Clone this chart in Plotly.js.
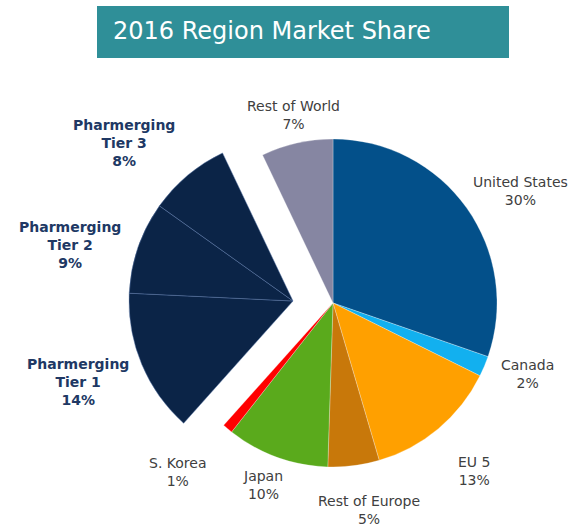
<!DOCTYPE html>
<html>
<head>
<meta charset="utf-8">
<script src="https://cdn.plot.ly/plotly-3.0.1.min.js"></script>
<style>html,body{margin:0;padding:0;background:#fff;}#chart{width:572px;height:527px;}</style>
</head>
<body>
<div id="chart"></div>
<script>
// ---- data ----
const categories = ['United States','Canada','EU 5','Rest of Europe','Japan','S. Korea','Pharmerging Tier 1','Pharmerging Tier 2','Pharmerging Tier 3','Rest of World'];
const shares = [30, 2, 13, 5, 10, 1, 14, 9, 8, 7];
const pharmerging = [false,false,false,false,false,false,true,true,true,false];
const sliceColors = ['#03508a','#12b0ef','#ffa000','#c8780a','#5aaa1c','#ff0000','#0b2447','#0b2447','#0b2447','#8686a2'];
const chartTitle = '2016 Region Market Share';

// ---- label layout (relative to pie radius / slice mid-angle) ----
const labelR = [1.33,1.26,1.34,1.28,1.19,1.40,1.40,1.40,1.41,1.17];
const labelDeg = [4.5,-2.7,0,-2.7,1,2.5,2,-5,-7,1];

// ---- geometry ----
const W = 572, H = 527;
const pieBox = {left:169, top:139, size:328};
const groupShift = {dx:-40, dy:-2};

function domainFor(dx, dy){
  const l = pieBox.left + dx, t = pieBox.top + dy;
  return {x:[l/W, (l+pieBox.size)/W], y:[1-(t+pieBox.size)/H, 1-t/H]};
}
const transparent = 'rgba(0,0,0,0)';
const edge = 'rgba(255,255,255,0.45)';

const traceMain = {
  type:'pie', values:shares, labels:categories, sort:false, direction:'clockwise', rotation:0,
  textinfo:'none', hoverinfo:'skip', showlegend:false,
  domain: domainFor(0,0),
  marker:{colors: sliceColors.map((c,i)=>pharmerging[i]?transparent:c),
          line:{color: edge, width: pharmerging.map(g=>g?0:0.6)}}
};
const traceGroup = {
  type:'pie', values:shares, labels:categories, sort:false, direction:'clockwise', rotation:0,
  textinfo:'none', hoverinfo:'skip', showlegend:false,
  domain: domainFor(groupShift.dx, groupShift.dy),
  marker:{colors: sliceColors.map((c,i)=>pharmerging[i]?c:transparent),
          line:{color: 'rgba(90,120,170,0.6)', width: pharmerging.map(g=>g?0.8:0)}}
};

// ---- labels computed from slice angles ----
const total = shares.reduce((a,b)=>a+b,0);
const R = pieBox.size/2;
const cx = pieBox.left + R, cy = pieBox.top + R;
let cum = 0;
const annotations = shares.map((v,i)=>{
  const mid = (cum + v/2)/total*360 + labelDeg[i];
  cum += v;
  const a = mid*Math.PI/180;
  const ox = cx + (pharmerging[i]?groupShift.dx:0);
  const oy = cy + (pharmerging[i]?groupShift.dy:0);
  const px = ox + R*labelR[i]*Math.sin(a);
  const py = oy - R*labelR[i]*Math.cos(a);
  const name = categories[i].replace('Pharmerging ','Pharmerging<br>');
  const txt = name + '<br>' + v + '%';
  return {
    x:px/W, y:1-py/H, xref:'paper', yref:'paper', xanchor:'center', yanchor:'middle',
    showarrow:false, align:'center', text: pharmerging[i] ? '<b>'+txt+'</b>' : txt,
    font: pharmerging[i] ? {family:'DejaVu Sans', size:14, color:'#203864'}
                         : {family:'DejaVu Sans', size:14, color:'#404040'}
  };
});

const layout = {
  width:W, height:H, margin:{l:0,r:0,t:0,b:0},
  paper_bgcolor:'#ffffff', plot_bgcolor:'#ffffff', showlegend:false,
  title:{text: chartTitle, x:113/W, xanchor:'left', xref:'paper', y:1-31/H, yanchor:'middle', yref:'container',
         font:{family:'DejaVu Sans', size:24, color:'#ffffff'}},
  shapes:[{type:'rect', xref:'paper', yref:'paper', x0:97/W, x1:509/W, y0:1-58/H, y1:1-6/H,
           fillcolor:'#2f8f98', line:{width:0}, layer:'below'}],
  annotations: annotations
};

Plotly.newPlot('chart', [traceMain, traceGroup], layout, {staticPlot:true, displayModeBar:false});
</script>
</body>
</html>
